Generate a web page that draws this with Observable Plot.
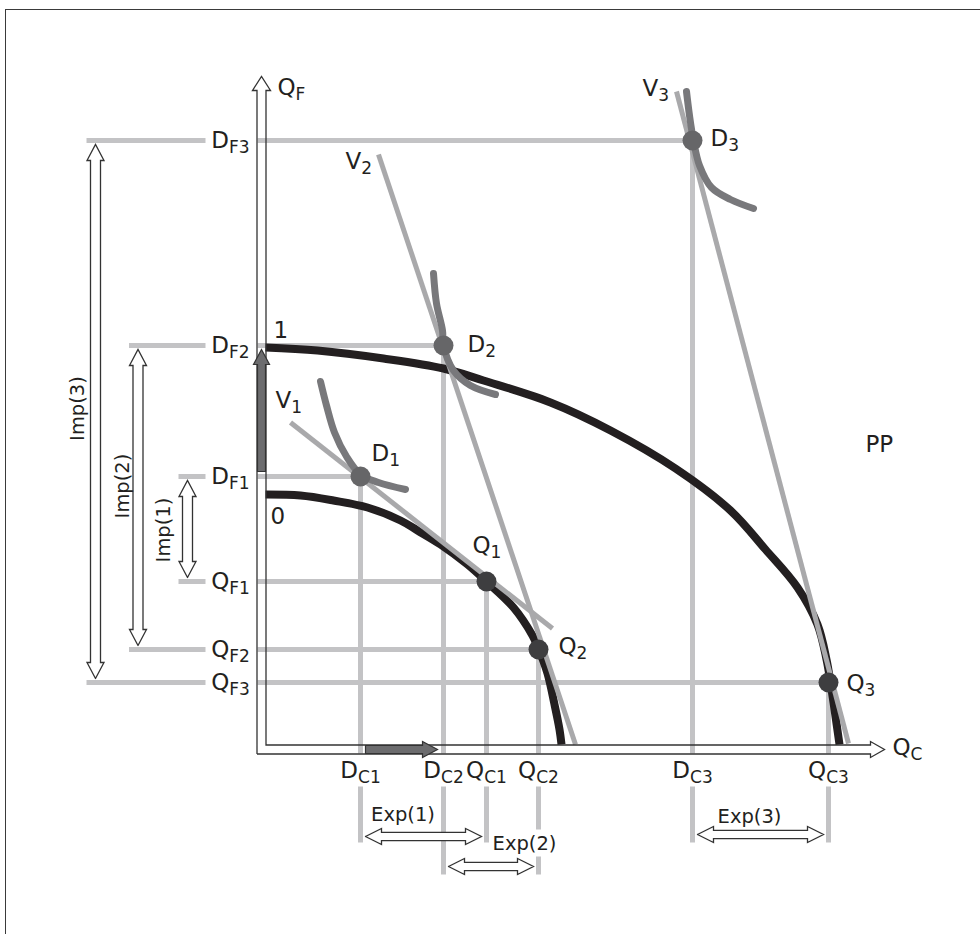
<!DOCTYPE html>
<html><head><meta charset="utf-8">
<script src="https://cdn.jsdelivr.net/npm/d3@7"></script>
<script src="https://cdn.jsdelivr.net/npm/@observablehq/plot@0.6"></script>
<style>
html,body{margin:0;padding:0;background:#fff;overflow:hidden;}
#wrap{position:relative;width:980px;height:934px;overflow:hidden;}
#frame{position:absolute;left:5px;top:9px;width:1100px;height:1100px;border:1.5px solid #3a3a3a;box-sizing:border-box;}
#chart{position:absolute;left:0;top:0;}
</style></head><body>
<div id="wrap"><div id="frame"></div><div id="chart"></div></div>
<script>
// ---- data (economic units: Qc horizontal, Qf vertical) ----
const xTickLabels = ["D_C1","D_C2","Q_C1","Q_C2","D_C3","Q_C3"];
const xTickValues = [99,182,225,277,431,567];
const yTickLabels = ["D_F3","D_F2","D_F1","Q_F1","Q_F2","Q_F3"];
const yTickValues = [609,404,273,168,100,67];

const consumptionLabels = ["D_1","D_2","D_3"];
const consumptionQc = [99,182,431];
const consumptionQf = [273,404,609];
const productionLabels = ["Q_1","Q_2","Q_3"];
const productionQc = [225,277,567];
const productionQf = [168,100,67];

const ppf0Qc = [4,39,72,106,139,156,179,206,225,252,271,277,286,293,298,300];
const ppf0Qf = [255,254,249,242,229,219,205,185,168,142,114,101,76,45,20,5];
const ppf1Qc = [4,56,122,182,222,289,349,414,469,504,536,556,565,569,573,578];
const ppf1Qf = [402,399,391,381,369,347,319,281,239,200,162,125,90,67,40,5];

const tradeLabels = ["V_1","V_2","V_3"];
const tradeStartQc = [29,117,415];
const tradeStartQf = [327,595,658];
const tradeEndQc = [291,314,587];
const tradeEndQf = [121,5,6];

const ic1Qc = [59,65,73,85,99,117,144];
const ic1Qf = [368,344,317,293,275,267,260];
const ic2Qc = [172,175,181,182,192,209,234];
const ic2Qf = [476,446,419,404,379,364,355];
const ic3Qc = [425,428,432,438,450,469,492];
const ic3Qf = [658,634,609,584,562,550,541];

const impLabels = ["Imp(1)","Imp(2)","Imp(3)"];
const expLabels = ["Exp(1)","Exp(2)","Exp(3)"];
const curveLabels = ["0","1","PP","Q_F","Q_C"];

// ---- layout (annotation placement) ----
const axisEndQc = 623, axisEndQf = 673;
const impArrowX = [-74,-123.5,-166];
const expArrowY = [-87,-117,-85];
const impLabelPos = [[-98,219.5],[-139,263.5],[-184,341]];
const expLabelPos = [[141.5,-65],[263,-94],[488,-67]];
const pointLabelPos = {D_1:[110,296],D_2:[206,405],D_3:[449,611],Q_1:[211,204],Q_2:[297,103],Q_3:[585,66],
  V_1:[14,349],V_2:[84,588],V_3:[381,661],"0":[9,233],"1":[12,419],PP:[604,305],Q_F:[16,662],Q_C:[631,2]};

// ---- derived tables ----
const pts = [
  ...consumptionLabels.map((l,i)=>({l,qc:consumptionQc[i],qf:consumptionQf[i],kind:"D"})),
  ...productionLabels.map((l,i)=>({l,qc:productionQc[i],qf:productionQf[i],kind:"Q"}))
];
const guidesH = pts.map(p=>({x1:-4,y1:p.qf,x2:p.qc,y2:p.qf}));
const guidesV = pts.map(p=>({x1:p.qc,y1:p.qf,x2:p.qc,y2:-4}));
const stubsL = [];
[0,1,2].forEach(i=>{
  stubsL.push({x1:impArrowX[i]-9,x2:-56,y:consumptionQf[i]});
  stubsL.push({x1:impArrowX[i]-9,x2:-56,y:productionQf[i]});
});
const stubsB = [];
[0,1,2].forEach(i=>{
  const bottom = expArrowY[i]-(i===0?6:8);
  stubsB.push({x:consumptionQc[i],y1:-37,y2:bottom});
  if (i===1) {
    stubsB.push({x:productionQc[i],y1:-37,y2:-80});
    stubsB.push({x:productionQc[i],y1:-107,y2:bottom});
  } else stubsB.push({x:productionQc[i],y1:-37,y2:bottom});
});
const ppf = [
  ...ppf0Qc.map((x,i)=>({id:"PPF0",x,y:ppf0Qf[i]})),
  ...ppf1Qc.map((x,i)=>({id:"PPF1",x,y:ppf1Qf[i]}))
];
const ics = [
  ...ic1Qc.map((x,i)=>({id:"IC1",x,y:ic1Qf[i]})),
  ...ic2Qc.map((x,i)=>({id:"IC2",x,y:ic2Qf[i]})),
  ...ic3Qc.map((x,i)=>({id:"IC3",x,y:ic3Qf[i]}))
];
const trades = tradeLabels.map((l,i)=>({x1:tradeStartQc[i],y1:tradeStartQf[i],x2:tradeEndQc[i],y2:tradeEndQf[i]}));

function frameOf(id,x1,y1,x2,y2){
  const dx=x2-x1, dy=y2-y1, len=Math.hypot(dx,dy), ux=dx/len, uy=dy/len, nx=-uy, ny=ux;
  return {len, P:(s,t)=>({id,x:x1+ux*s+nx*t,y:y1+uy*s+ny*t})};
}
function doubleArrow(id,x1,y1,x2,y2,w,h,L){
  const {len,P}=frameOf(id,x1,y1,x2,y2);
  return [P(0,0),P(L,h),P(L,w),P(len-L,w),P(len-L,h),P(len,0),P(len-L,-h),P(len-L,-w),P(L,-w),P(L,-h),P(0,0)];
}
function singleArrow(id,x1,y1,x2,y2,w,h,L){
  const {len,P}=frameOf(id,x1,y1,x2,y2);
  return [P(0,w),P(len-L,w),P(len-L,h),P(len,0),P(len-L,-h),P(len-L,-w),P(0,-w),P(0,w)];
}
const hollow = [];
[0,1,2].forEach(i=>{
  hollow.push(...doubleArrow("imp"+i,impArrowX[i],productionQf[i]+4,impArrowX[i],consumptionQf[i]-4,5,8.5,16));
  hollow.push(...doubleArrow("exp"+i,consumptionQc[i]+5,expArrowY[i],productionQc[i]-5,expArrowY[i],4.2,8,16));
});
const growth = [
  ...singleArrow("gF",0,consumptionQf[0]+5,0,consumptionQf[1]-4,4,8,15),
  ...singleArrow("gC",consumptionQc[0]+5,0,consumptionQc[1]-6,0,4,8,15)
];
const a=4.5;
const axisPoly = [
  [-a,-a],[-a,axisEndQf-14],[-9,axisEndQf-14],[0,axisEndQf],[9,axisEndQf-14],[a,axisEndQf-14],
  [a,a],[axisEndQc-14,a],[axisEndQc-14,8],[axisEndQc,0],[axisEndQc-14,-8],[axisEndQc-14,-a],[-a,-a]
].map(([x,y])=>({id:"axis",x,y}));

const pointTexts = [...consumptionLabels,...productionLabels,...tradeLabels,...curveLabels]
  .map(t=>({t,x:pointLabelPos[t][0],y:pointLabelPos[t][1]}));
const xTickTexts = xTickLabels.map((t,i)=>({t,x:xTickValues[i],y:-21}));
const yTickTexts = yTickLabels.map((t,i)=>({t,x:-31,y:yTickValues[i]}));
const smallTexts = [
  ...impLabels.map((t,i)=>({t,x:impLabelPos[i][0],y:impLabelPos[i][1],r:-90})),
  ...expLabels.map((t,i)=>({t,x:expLabelPos[i][0],y:expLabelPos[i][1],r:0}))
];

const ink="#231f20", font="DejaVu Sans";
const chart = Plot.plot({
  width:980, height:934, margin:0,
  x:{domain:[-261,719], axis:null},
  y:{domain:[-185,749], axis:null},
  style:{background:"transparent"},
  marks:[
    Plot.link(guidesH,{x1:"x1",y1:"y1",x2:"x2",y2:"y2",stroke:"#c3c3c5",strokeWidth:5,strokeLinecap:"butt"}),
    Plot.link(guidesV,{x1:"x1",y1:"y1",x2:"x2",y2:"y2",stroke:"#c3c3c5",strokeWidth:5,strokeLinecap:"butt"}),
    Plot.link(stubsL,{x1:"x1",x2:"x2",y1:"y",y2:"y",stroke:"#c3c3c5",strokeWidth:5,strokeLinecap:"butt"}),
    Plot.link(stubsB,{x1:"x",x2:"x",y1:"y1",y2:"y2",stroke:"#c3c3c5",strokeWidth:5,strokeLinecap:"butt"}),
    Plot.line(ppf,{x:"x",y:"y",z:"id",curve:"catmull-rom",stroke:ink,strokeWidth:8,strokeLinecap:"butt"}),
    Plot.link(trades,{x1:"x1",y1:"y1",x2:"x2",y2:"y2",stroke:"#a9a9ab",strokeWidth:5,strokeLinecap:"butt"}),
    Plot.line(ics,{x:"x",y:"y",z:"id",curve:"catmull-rom",stroke:"#78787b",strokeWidth:7,strokeLinecap:"round"}),
    Plot.line(axisPoly,{x:"x",y:"y",z:"id",fill:"none",stroke:"#333",strokeWidth:1.3,strokeLinejoin:"miter",strokeMiterlimit:10,strokeLinecap:"butt"}),
    Plot.line(growth,{x:"x",y:"y",z:"id",fill:"#6c6c6e",stroke:"#333",strokeWidth:1.2,strokeLinejoin:"miter",strokeMiterlimit:10}),
    Plot.line(hollow,{x:"x",y:"y",z:"id",fill:"white",stroke:"#333",strokeWidth:1.3,strokeLinejoin:"miter",strokeMiterlimit:10}),
    Plot.dot(pts,{x:"qc",y:"qf",r:10,fill:d=>d.kind==="D"?"#666668":"#3e3e40",stroke:"none"}),
    Plot.text(pointTexts,{x:"x",y:"y",text:"t",textAnchor:"start",fontSize:23,fontFamily:font,fill:ink}),
    Plot.text(xTickTexts,{x:"x",y:"y",text:"t",textAnchor:"middle",fontSize:23,fontFamily:font,fill:ink}),
    Plot.text(yTickTexts,{x:"x",y:"y",text:"t",textAnchor:"middle",fontSize:23,fontFamily:font,fill:ink}),
    Plot.text(smallTexts,{x:"x",y:"y",text:"t",rotate:"r",textAnchor:"middle",fontSize:19.5,fontFamily:font,fill:ink})
  ]
});
// subscripts
d3.select(chart).selectAll("text").each(function(){
  const t=this.textContent;
  if (t.includes("_")) {
    const [m,s]=t.split("_");
    this.textContent="";
    d3.select(this).append("tspan").text(m);
    d3.select(this).append("tspan").attr("font-size","17px").attr("dy","5").text(s);
  }
});
document.getElementById("chart").appendChild(chart);
</script></body></html>
